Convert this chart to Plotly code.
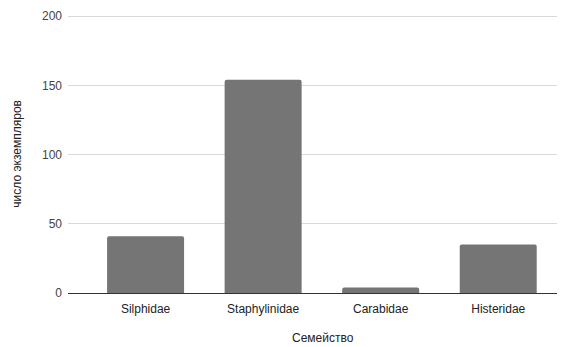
import plotly.graph_objects as go

families = ["Silphidae", "Staphylinidae", "Carabidae", "Histeridae"]
counts = [41, 154, 4, 35]
y_ticks = [0, 50, 100, 150, 200]

fig = go.Figure(go.Bar(x=families, y=counts, marker_color="#757575", marker_line_width=0))

# page body has an 8px margin, so the figure is sized/shifted to compensate
fig.update_layout(
    width=560, height=339,
    margin=dict(l=60, r=11, t=6, b=54),
    paper_bgcolor="white", plot_bgcolor="white",
    font=dict(family="Liberation Sans, Arial", size=12, color="#444444"),
    bargap=0.345,
    barcornerradius=2,
    showlegend=False,
)
fig.update_xaxes(range=[-0.66, 3.5], showgrid=False, showline=False, ticks="",
                 automargin=False, ticklabelstandoff=7,
                 tickfont=dict(color="#222222", size=12))
fig.update_yaxes(range=[0, 201.5], tickvals=y_ticks, gridcolor="#d9d9d9", gridwidth=1,
                 zeroline=True, zerolinecolor="#333333", zerolinewidth=1,
                 showline=False, ticks="", ticklabelstandoff=5, automargin=False,
                 tickfont=dict(color="#444444", size=12))
fig.add_annotation(text="число экземпляров", xref="paper", yref="paper",
                   x=-0.106, y=0.5, xanchor="center", yanchor="middle", textangle=-90,
                   showarrow=False, font=dict(size=12, color="#222222"))
fig.add_annotation(text="Семейство", xref="paper", yref="paper",
                   x=0.521, y=-0.162, xanchor="center", yanchor="middle",
                   showarrow=False, font=dict(size=12, color="#222222"))
fig.write_html("out.html")
